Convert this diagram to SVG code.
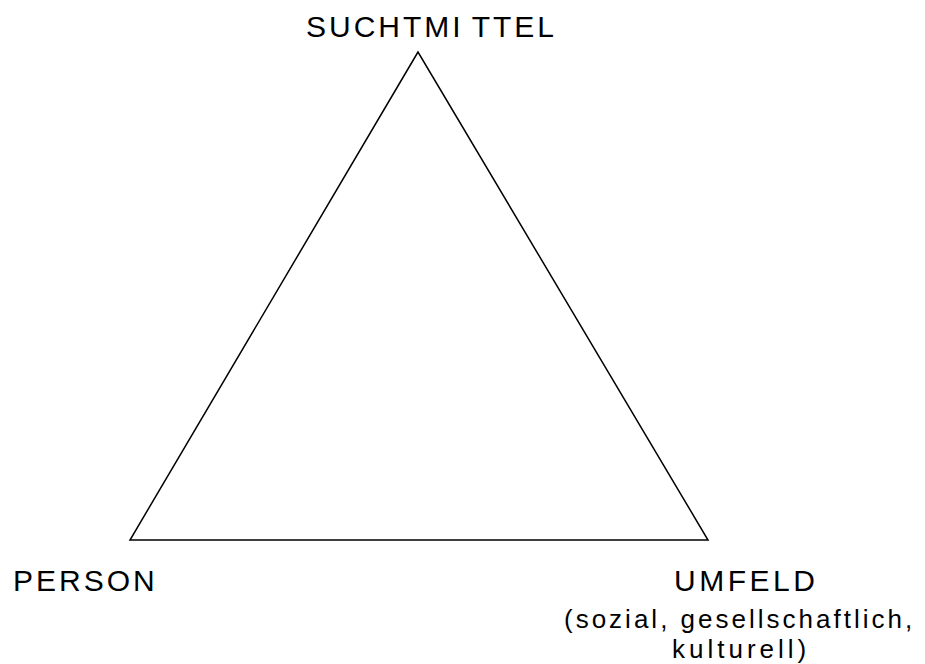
<svg xmlns="http://www.w3.org/2000/svg" width="925" height="664" viewBox="0 0 925 664">
<style>
text{font-family:"Liberation Sans",Arial,sans-serif;fill:#000}
.big{font-size:30px;letter-spacing:3px}
.small{font-size:26px;letter-spacing:3px}
</style>
<rect width="925" height="664" fill="#fff"/>
<g id="connectors">
<polygon points="418,52 130,540 708,540" fill="none" stroke="#000" stroke-width="1.5"/>
</g>
<g id="suchtmittel"><text class="big" x="306" y="36.5">SUCHTMI<tspan dx="8">TTEL</tspan></text></g>
<g id="person"><text class="big" x="13" y="590.5">PERSON</text></g>
<g id="umfeld">
<text class="big" x="674" y="591" style="letter-spacing:3.5px">UMFELD</text>
<text class="small" x="564" y="628">(sozial, gesellschaftlich,</text>
<text class="small" x="672" y="658" style="letter-spacing:4px">kulturell)</text>
</g>
</svg>
